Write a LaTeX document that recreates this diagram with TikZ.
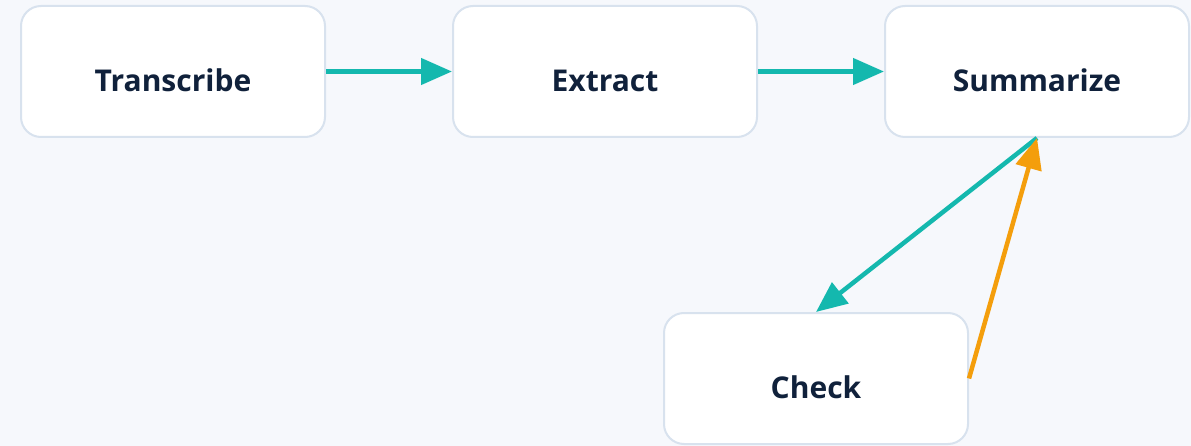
\documentclass[tikz,border=0pt]{standalone}
\usepackage{fontspec}
\setmainfont{Open Sans}
\usetikzlibrary{arrows.meta}
\definecolor{bgpage}{HTML}{F6F8FC}
\definecolor{boxline}{HTML}{D8E2EE}
\definecolor{inkblue}{HTML}{10213B}
\definecolor{teal}{HTML}{14B8AE}
\definecolor{amber}{HTML}{F49E0C}
\tikzset{
  stage/.style={draw=boxline, line width=2pt, fill=white, rounded corners=20pt,
    minimum width=304pt, minimum height=131pt, text=inkblue,
    text height=40pt, text depth=0pt,
    font=\fontsize{30}{34}\selectfont\bfseries},
  flow/.style={draw=teal, line width=4.5pt, -{Triangle[length=31pt,width=26pt]}},
  back/.style={draw=amber, line width=4.5pt, -{Triangle[length=31pt,width=26pt]}}
}
\begin{document}
\begin{tikzpicture}[x=1pt,y=1pt]
        \fill[bgpage] (0,0) rectangle (1191,-446);
        \useasboundingbox (0,0) rectangle (1191,-446);
        \node[stage] (transcribe) at (173,-71.5) {Transcribe};
        \node[stage] (extract) at (605,-71.5) {Extract};
        \node[stage] (summarize) at (1037,-71.5) {Summarize};
        \node[stage] (check) at (816,-378.5) {Check};
        %%
        \draw[flow] (transcribe) -- (extract);
        \draw[flow] (extract) -- (summarize);
        \draw[flow] (summarize.south) -- (check.north);
        \draw[back] (check.east) -- (summarize.south);
\end{tikzpicture}
\end{document}
